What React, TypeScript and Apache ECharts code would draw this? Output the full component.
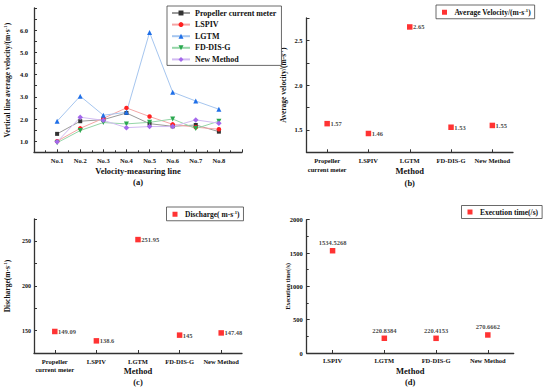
import React, { useEffect, useRef } from "react";
import * as echarts from "echarts";

const lineCats = ["No.1", "No.2", "No.3", "No.4", "No.5", "No.6", "No.7", "No.8"];
const propeller = [1.33, 1.9, 1.97, 2.27, 1.79, 1.67, 1.73, 1.43];
const lspiv = [1.0, 1.58, 2.03, 2.5, 2.11, 1.76, 1.63, 1.54];
const lgtm = [1.9, 3.03, 2.17, 2.3, 5.9, 3.21, 2.81, 2.44];
const fddisg = [0.93, 1.48, 1.84, 1.78, 1.85, 2.0, 1.57, 1.9];
const newMethod = [0.97, 2.08, 1.94, 1.61, 1.66, 1.66, 1.96, 1.81];

const methods5 = ["Propeller\ncurrent meter", "LSPIV", "LGTM", "FD-DIS-G", "New Method"];
const avgVelocity = [1.57, 1.46, 2.65, 1.53, 1.55];
const discharge = [149.09, 138.6, 251.95, 145, 147.48];
const methods4 = ["LSPIV", "LGTM", "FD-DIS-G", "New Method"];
const execTime = [1534.5268, 220.8384, 220.4153, 270.6662];

const F = "Liberation Serif";
const TXT = "#111";
const AX = "#333";

const rich = (size: number) => ({
  a: { fontFamily: F, fontWeight: "bold", fontSize: size, color: TXT, lineHeight: size + 2 },
  s: { fontFamily: F, fontWeight: "bold", fontSize: size * 0.62, color: TXT, lineHeight: size + 2, verticalAlign: "top" },
});

const axisLine = { show: true, lineStyle: { color: AX, width: 1.3 } };
const axisTick = { show: true, inside: true, length: 3, lineStyle: { color: AX, width: 1 } };
const tickLabel = (size = 6.5) => ({ fontFamily: F, fontWeight: "bold", fontSize: size, color: TXT });

export default function App() {
  const ref = useRef<HTMLDivElement>(null);
  useEffect(() => {
    if (!ref.current) return;
    const chart = echarts.init(ref.current, undefined, { renderer: "svg" });
    const lineSeries = [
      { name: "Propeller current meter", data: propeller, symbol: "rect", size: 4, mk: "#333333", ln: "#9a9a9a", rot: 0 },
      { name: "LSPIV", data: lspiv, symbol: "circle", size: 4.5, mk: "#ff2020", ln: "#f4a5a5", rot: 0 },
      { name: "LGTM", data: lgtm, symbol: "triangle", size: 5, mk: "#1f6fe8", ln: "#a6c6ef", rot: 0 },
      { name: "FD-DIS-G", data: fddisg, symbol: "triangle", size: 5, mk: "#2aa84f", ln: "#95d6a8", rot: 180 },
      { name: "New Method", data: newMethod, symbol: "diamond", size: 5.5, mk: "#a468ec", ln: "#d2bbf2", rot: 0 },
    ];
    const scatterLabel = (pos: string) => ({
      show: true,
      position: pos,
      distance: 0.5,
      fontFamily: F,
      fontWeight: "bold",
      fontSize: 6.5,
      color: TXT,
    });
    const nameStyle = { fontFamily: F, fontWeight: "bold", fontSize: 8.5, color: TXT, lineHeight: 11.5 };
    const option: any = {
      animation: false,
      backgroundColor: "#fff",
      grid: [
        { left: 34, top: 8, width: 208, height: 144.3 },
        { left: 306.5, top: 18, width: 206.5, height: 134.3 },
        { left: 34, top: 219, width: 208, height: 135 },
        { left: 306.7, top: 219.7, width: 207, height: 133.6 },
      ],
      xAxis: [
        {
          gridIndex: 0, type: "value", min: 0, max: 9, interval: 1,
          axisLine, axisTick: { ...axisTick }, splitLine: { show: false },
          minorTick: { show: true, splitNumber: 2, length: 2, lineStyle: { color: AX } },
          axisLabel: { ...tickLabel(6.5), margin: 5, formatter: (v: number) => (v >= 1 && v <= lineCats.length ? lineCats[v - 1] : "") },
          name: "Velocity-measuring line\n(a)", nameLocation: "middle", nameGap: 13, nameMoveOverlap: false,
          nameTextStyle: { ...nameStyle, lineHeight: 11 },
        },
        {
          gridIndex: 1, type: "category", data: methods5, boundaryGap: true,
          axisLine, axisTick: { ...axisTick, alignWithLabel: true }, splitLine: { show: false },
          axisLabel: { ...tickLabel(6.5), margin: 4, lineHeight: 8.5, interval: 0 },
          name: "Method\n(b)", nameLocation: "middle", nameGap: 13, nameMoveOverlap: false,
          nameTextStyle: nameStyle,
        },
        {
          gridIndex: 2, type: "category", data: methods5, boundaryGap: true,
          axisLine, axisTick: { ...axisTick, alignWithLabel: true }, splitLine: { show: false },
          axisLabel: { ...tickLabel(6.5), margin: 4, lineHeight: 8.5, interval: 0 },
          name: "Method\n(c)", nameLocation: "middle", nameGap: 12, nameMoveOverlap: false,
          nameTextStyle: { ...nameStyle, lineHeight: 11 },
        },
        {
          gridIndex: 3, type: "category", data: methods4, boundaryGap: true,
          axisLine, axisTick: { ...axisTick, alignWithLabel: true }, splitLine: { show: false },
          axisLabel: { ...tickLabel(6.5), margin: 4, interval: 0 },
          name: "Method\n(d)", nameLocation: "middle", nameGap: 12, nameMoveOverlap: false,
          nameTextStyle: { ...nameStyle, lineHeight: 11 },
        },
      ],
      yAxis: [
        {
          gridIndex: 0, type: "value", min: 0.5, max: 7, interval: 0.5,
          axisLine, axisTick, splitLine: { show: false },
          axisLabel: { ...tickLabel(6.5), margin: 6, formatter: (v: number) => (Number.isInteger(v) && v <= 6 ? v.toFixed(1) : "") },
          name: "{a|Vertical line average velocity/(m·s}{s|-1}{a|)}", nameLocation: "middle", nameGap: 22, nameMoveOverlap: false,
          nameTextStyle: { rich: rich(7.5) },
        },
        {
          gridIndex: 1, type: "value", min: 1.25, max: 2.75, interval: 0.25,
          axisLine, axisTick, splitLine: { show: false },
          axisLabel: { ...tickLabel(6.5), margin: 4, formatter: (v: number) => (Math.abs(v * 2 - Math.round(v * 2)) < 1e-6 && v > 1.3 && v < 2.7 ? v.toFixed(1) : "") },
          name: "{a|Average velocity/(m·s}{s|-1}{a|)}", nameLocation: "middle", nameGap: 18, nameMoveOverlap: false,
          nameTextStyle: { rich: rich(7.5) },
        },
        {
          gridIndex: 2, type: "value", min: 125, max: 275, interval: 25,
          axisLine, axisTick, splitLine: { show: false },
          axisLabel: { ...tickLabel(6), margin: 3, formatter: (v: number) => (v % 50 === 0 ? String(v) : "") },
          name: "{a|Discharge(m·s}{s|-1}{a|)}", nameLocation: "middle", nameGap: 22, nameMoveOverlap: false,
          nameTextStyle: { rich: rich(7.5) },
        },
        {
          gridIndex: 3, type: "value", min: 0, max: 2000, interval: 500,
          axisLine, axisTick, splitLine: { show: false },
          minorTick: { show: true, splitNumber: 2, length: 2, lineStyle: { color: AX } },
          axisLabel: { ...tickLabel(6.5), margin: 4, formatter: (v: number) => String(v) },
          name: "Execution time(/s)", nameLocation: "middle", nameGap: 16, nameMoveOverlap: false,
          nameTextStyle: { fontFamily: F, fontWeight: "bold", fontSize: 6, color: TXT },
        },
      ],
      legend: [
        {
          data: lineSeries.map((s) => s.name),
          orient: "vertical", left: 167, top: 6,
          backgroundColor: "#fff", borderColor: "#444", borderWidth: 0.8, borderRadius: 0,
          padding: [3, 5, 2, 4], itemGap: 3.6, itemWidth: 18, itemHeight: 6.2,
          textStyle: { fontFamily: F, fontWeight: "bold", fontSize: 8, color: TXT },
        },
        {
          data: ["Average Velocity"], left: 436, top: 5,
          borderColor: "#444", borderWidth: 0.8, padding: [2.5, 4, 2.5, 6], itemWidth: 10, itemHeight: 5,
          icon: "path://M0,0h1v1h-1z",
          formatter: () => "{a|Average Velocity/(m·s}{s|-1}{a|)}",
          textStyle: { rich: rich(7.5) },
        },
        {
          data: ["Discharge"], left: 166.5, top: 207,
          borderColor: "#444", borderWidth: 0.8, padding: [2.5, 4, 2.5, 6], itemWidth: 10, itemHeight: 5,
          icon: "path://M0,0h1v1h-1z",
          formatter: () => "{a|Discharge( m·s}{s|-1}{a|)}",
          textStyle: { rich: rich(7.5) },
        },
        {
          data: ["Execution time"], left: 461.5, top: 205.5,
          borderColor: "#444", borderWidth: 0.8, padding: [2.5, 4, 2.5, 6], itemWidth: 10, itemHeight: 5,
          icon: "path://M0,0h1v1h-1z",
          formatter: () => "Execution time(/s)",
          textStyle: { fontFamily: F, fontWeight: "bold", fontSize: 7.5, color: TXT },
        },
      ],
      series: [
        ...lineSeries.map((s) => ({
          type: "line",
          name: s.name,
          xAxisIndex: 0,
          yAxisIndex: 0,
          data: s.data.map((v, i) => [i + 1, v]),
          symbol: s.symbol,
          symbolSize: s.size,
          symbolRotate: s.rot,
          showAllSymbol: true,
          itemStyle: { color: s.mk },
          lineStyle: { color: s.ln, width: 1 },
          z: 3,
        })),
        {
          type: "scatter", name: "Average Velocity", xAxisIndex: 1, yAxisIndex: 1,
          data: avgVelocity, symbol: "rect", symbolSize: 5.5, itemStyle: { color: "#ff0000" },
          label: scatterLabel("right"),
        },
        {
          type: "scatter", name: "Discharge", xAxisIndex: 2, yAxisIndex: 2,
          data: discharge, symbol: "rect", symbolSize: 5.5, itemStyle: { color: "#ff0000" },
          label: scatterLabel("right"),
        },
        {
          type: "scatter", name: "Execution time", xAxisIndex: 3, yAxisIndex: 3,
          data: execTime, symbol: "rect", symbolSize: 5.5, itemStyle: { color: "#ff0000" },
          label: { ...scatterLabel("top"), distance: 2 },
        },
      ],
    };
    chart.setOption(option);
    return () => chart.dispose();
  }, []);
  return <div ref={ref} style={{ width: 550, height: 388, position: "absolute", left: 0, top: 0 }} />;
}
